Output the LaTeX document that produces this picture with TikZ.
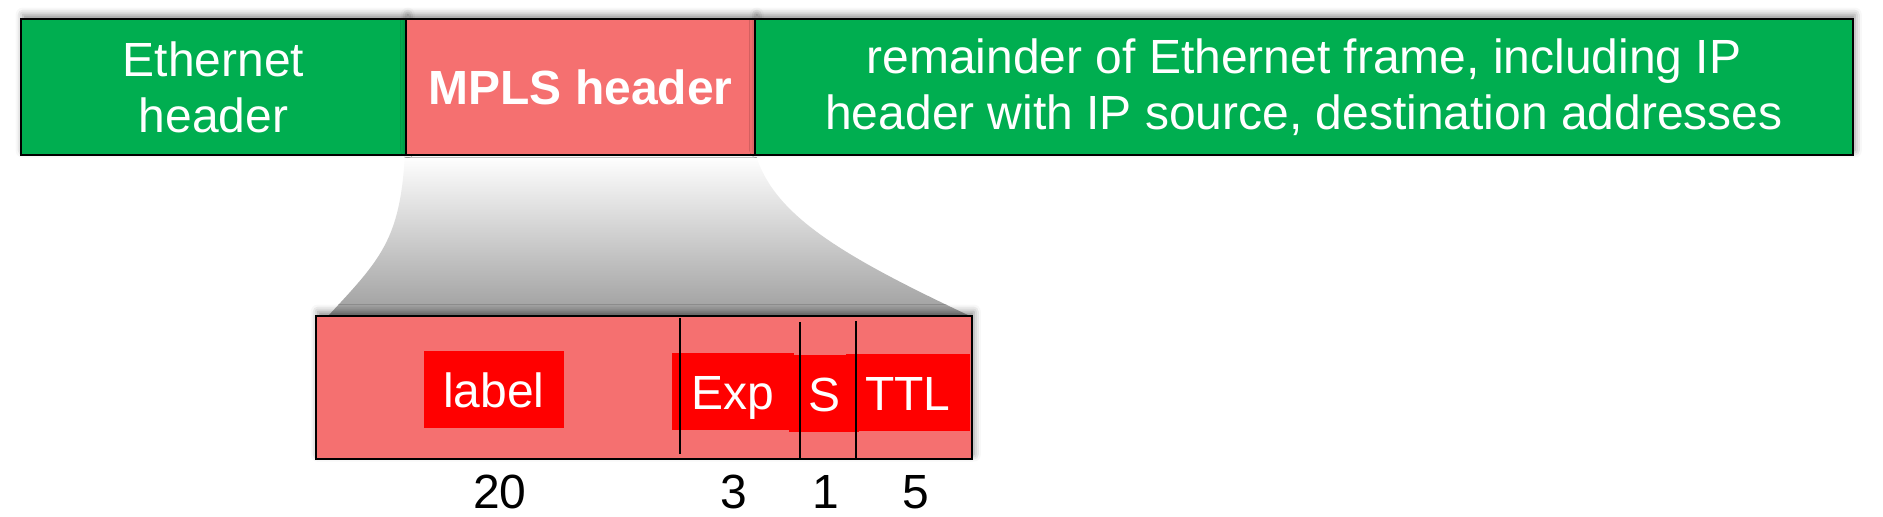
\documentclass[tikz,border=0pt]{standalone}
\usepackage{fontspec}
\setmainfont{Liberation Sans}
\usetikzlibrary{backgrounds,shadows.blur}
\definecolor{ethgreen}{HTML}{00AE50}
\definecolor{mplspink}{HTML}{F57070}
\definecolor{fieldred}{HTML}{FF0000}
\begin{document}
\begin{tikzpicture}[font=\fontsize{27.3}{31.9}\selectfont,
  soft/.style={blur shadow={shadow xshift=1pt,shadow yshift=2.5pt,shadow blur radius=4pt,shadow opacity=45}},
  framebox/.style={draw,line width=1.4pt,minimum height=2.72cm,inner sep=0pt,align=center,text=white,soft},
  fieldbox/.style={fill=fieldred,minimum height=1.54cm,inner sep=0pt,text height=20.5pt,text depth=0pt,text=white}]
\useasboundingbox (0,0) rectangle (37.66,10.32);

\node[framebox,fill=ethgreen,minimum width=7.70cm] (eth) at (4.27,8.58) {Ethernet\\header};
\node[framebox,fill=mplspink,minimum width=6.98cm,font=\fontsize{27.3}{31.9}\selectfont\bfseries] (mpls) at (11.61,8.58) {MPLS header};
\node[framebox,fill=ethgreen,minimum width=21.96cm] (rest) at (26.08,8.58) {remainder of Ethernet frame, including IP\\header with IP source, destination addresses};

\node[framebox,fill=mplspink,minimum width=13.12cm,minimum height=2.86cm] (mlab) at (12.88,2.57) {};
\begin{scope}[on background layer] % entonnoir d'agrandissement
\shade[top color=white,bottom color=black!38] (mpls.south west) .. controls (8.00,5.52) and (7.60,5.12) .. (6.56,4.00) -- (19.40,4.00) .. controls (16.80,5.22) and (15.50,6.02) .. (mpls.south east) -- cycle;
\end{scope}

\node[fieldbox,minimum width=2.80cm] (lab) at (9.88,2.53) {label};
\node[fieldbox,minimum width=2.44cm] (exp) at (14.66,2.49) {Exp};
\node[fieldbox,minimum width=1.40cm] (s) at (16.48,2.45) {S};
\node[fieldbox,minimum width=2.48cm] (ttl) at (18.16,2.47) {TTL};
\draw[line width=0.8pt] (13.60,3.96) -- (13.60,1.24) (16.00,3.88) -- (16.00,1.14) (17.12,3.90) -- (17.12,1.14);

\node (n20) at (10.00,0.48) {20};
\node (n3) at (14.68,0.48) {3};
\node (n1) at (16.52,0.48) {1};
\node (n5) at (18.32,0.48) {5};
\end{tikzpicture}
\end{document}
